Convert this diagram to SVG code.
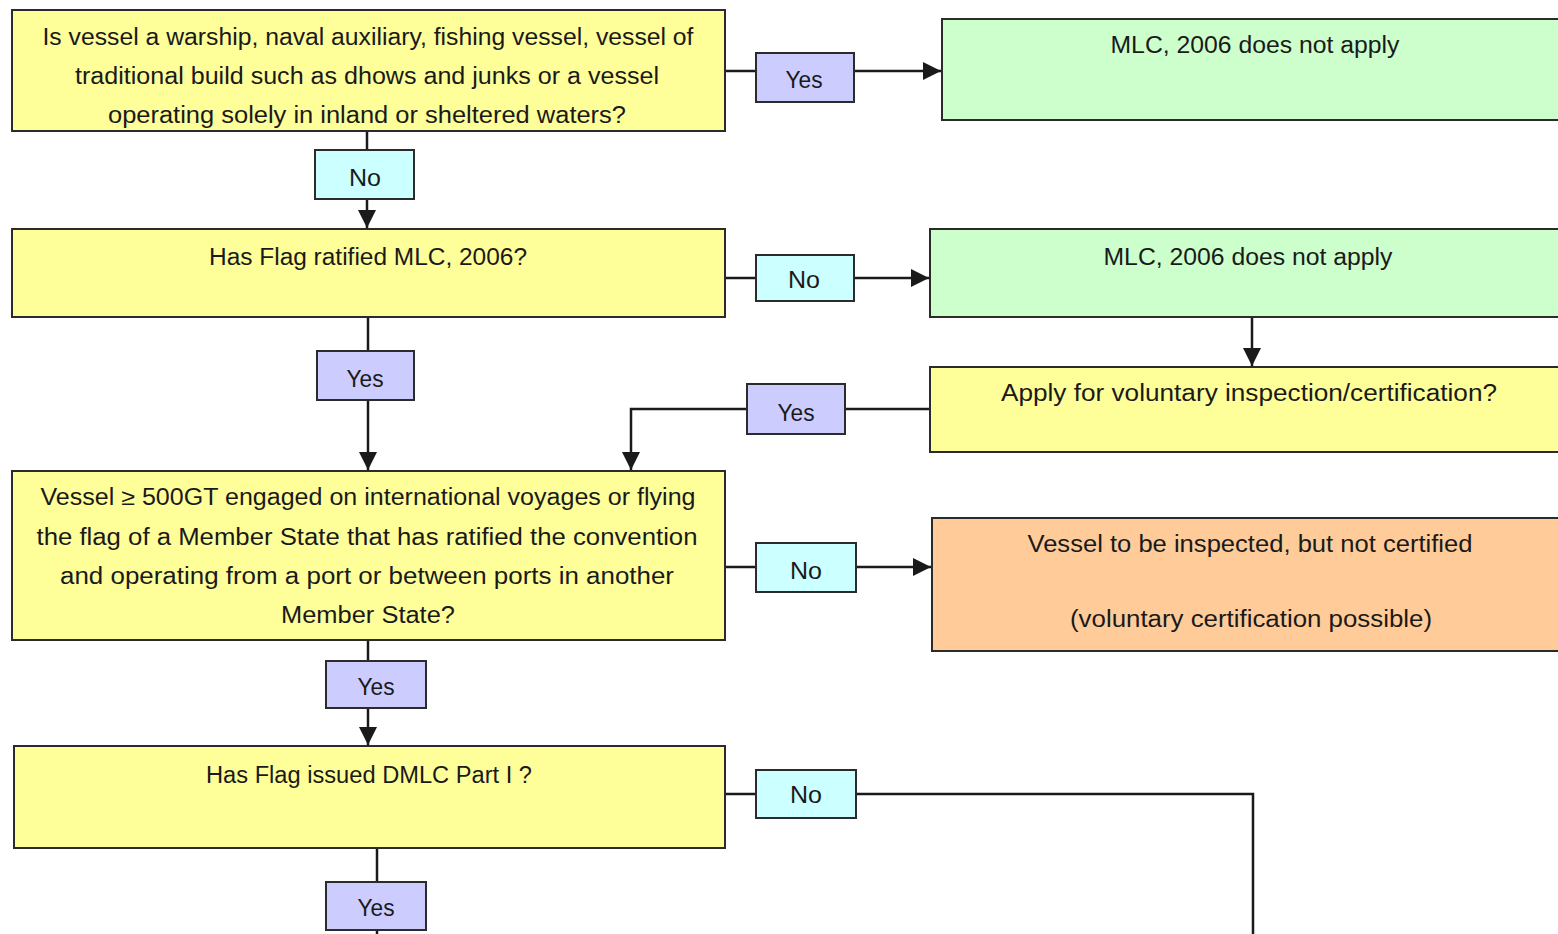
<svg xmlns="http://www.w3.org/2000/svg" width="1558" height="934" viewBox="0 0 1558 934">
<style>
.q{fill:#FFFF99;stroke:#2b2b2b;stroke-width:2}
.g{fill:#CCFFCC;stroke:#2b2b2b;stroke-width:2}
.o{fill:#FFCC99;stroke:#2b2b2b;stroke-width:2}
.y{fill:#CCCCFF;stroke:#2b2b2b;stroke-width:2}
.n{fill:#CCFFFF;stroke:#2b2b2b;stroke-width:2}
text{font-family:"Liberation Sans",Arial,sans-serif;font-size:23px;fill:#1a1a1a;text-anchor:middle}
.c{fill:none;stroke:#1a1a1a;stroke-width:2.5}
</style>
<defs>
<marker id="ah" markerUnits="userSpaceOnUse" markerWidth="20" markerHeight="18" refX="18" refY="9" orient="auto">
<path d="M0,0 L18,9 L0,18 Z" fill="#1a1a1a"/>
</marker>
</defs>
<rect width="1558" height="934" fill="#ffffff"/>
<g id="connectors">
<line class="c" x1="725" y1="71" x2="941" y2="71" marker-end="url(#ah)"/>
<line class="c" x1="367" y1="131" x2="367" y2="228" marker-end="url(#ah)"/>
<line class="c" x1="725" y1="278" x2="929" y2="278" marker-end="url(#ah)"/>
<line class="c" x1="368" y1="317" x2="368" y2="470" marker-end="url(#ah)"/>
<line class="c" x1="1252" y1="317" x2="1252" y2="366" marker-end="url(#ah)"/>
<polyline class="c" points="930,409 631,409 631,470" marker-end="url(#ah)"/>
<line class="c" x1="725" y1="567" x2="931" y2="567" marker-end="url(#ah)"/>
<line class="c" x1="368" y1="640" x2="368" y2="745" marker-end="url(#ah)"/>
<polyline class="c" points="725,794 1253,794 1253,934"/>
<line class="c" x1="377" y1="848" x2="377" y2="934"/>
</g>
<g id="q1">
<rect class="q" x="12" y="10" width="713" height="121"/>
<text x="368" y="45" textLength="651" lengthAdjust="spacingAndGlyphs">Is vessel a warship, naval auxiliary, fishing vessel, vessel of</text>
<text x="367" y="84" textLength="584" lengthAdjust="spacingAndGlyphs">traditional build such as dhows and junks or a vessel</text>
<text x="367" y="123" textLength="518" lengthAdjust="spacingAndGlyphs">operating solely in inland or sheltered waters?</text>
</g>
<g id="l1">
<rect class="y" x="756" y="53" width="98" height="49"/>
<text x="804" y="88" textLength="37" lengthAdjust="spacingAndGlyphs">Yes</text>
</g>
<g id="r1">
<rect class="g" x="942" y="19" width="620" height="101"/>
<text x="1255" y="53" textLength="289" lengthAdjust="spacingAndGlyphs">MLC, 2006 does not apply</text>
</g>
<g id="l2">
<rect class="n" x="315" y="150" width="99" height="49"/>
<text x="365" y="186" textLength="32" lengthAdjust="spacingAndGlyphs">No</text>
</g>
<g id="q2">
<rect class="q" x="12" y="229" width="713" height="88"/>
<text x="368" y="265" textLength="318" lengthAdjust="spacingAndGlyphs">Has Flag ratified MLC, 2006?</text>
</g>
<g id="l3">
<rect class="n" x="756" y="255" width="98" height="46"/>
<text x="804" y="288" textLength="32" lengthAdjust="spacingAndGlyphs">No</text>
</g>
<g id="r2">
<rect class="g" x="930" y="229" width="632" height="88"/>
<text x="1248" y="265" textLength="289" lengthAdjust="spacingAndGlyphs">MLC, 2006 does not apply</text>
</g>
<g id="l4">
<rect class="y" x="317" y="351" width="97" height="49"/>
<text x="365" y="387" textLength="37" lengthAdjust="spacingAndGlyphs">Yes</text>
</g>
<g id="q3">
<rect class="q" x="930" y="367" width="632" height="85"/>
<text x="1249" y="401" textLength="496" lengthAdjust="spacingAndGlyphs">Apply for voluntary inspection/certification?</text>
</g>
<g id="l5">
<rect class="y" x="747" y="384" width="98" height="50"/>
<text x="796" y="421" textLength="37" lengthAdjust="spacingAndGlyphs">Yes</text>
</g>
<g id="q4">
<rect class="q" x="12" y="471" width="713" height="169"/>
<text x="368" y="505" textLength="655" lengthAdjust="spacingAndGlyphs">Vessel ≥ 500GT engaged on international voyages or flying</text>
<text x="367" y="545" textLength="661" lengthAdjust="spacingAndGlyphs">the flag of a Member State that has ratified the convention</text>
<text x="367" y="584" textLength="614" lengthAdjust="spacingAndGlyphs">and operating from a port or between ports in another</text>
<text x="368" y="623" textLength="174" lengthAdjust="spacingAndGlyphs">Member State?</text>
</g>
<g id="l6">
<rect class="n" x="756" y="543" width="100" height="49"/>
<text x="806" y="579" textLength="32" lengthAdjust="spacingAndGlyphs">No</text>
</g>
<g id="r3">
<rect class="o" x="932" y="518" width="630" height="133"/>
<text x="1250" y="552" textLength="445" lengthAdjust="spacingAndGlyphs">Vessel to be inspected, but not certified</text>
<text x="1251" y="627" textLength="362" lengthAdjust="spacingAndGlyphs">(voluntary certification possible)</text>
</g>
<g id="l7">
<rect class="y" x="326" y="661" width="100" height="47"/>
<text x="376" y="695" textLength="37" lengthAdjust="spacingAndGlyphs">Yes</text>
</g>
<g id="q5">
<rect class="q" x="14" y="746" width="711" height="102"/>
<text x="369" y="783" textLength="326" lengthAdjust="spacingAndGlyphs">Has Flag issued DMLC Part I ?</text>
</g>
<g id="l8">
<rect class="n" x="756" y="770" width="100" height="48"/>
<text x="806" y="803" textLength="32" lengthAdjust="spacingAndGlyphs">No</text>
</g>
<g id="l9">
<rect class="y" x="326" y="882" width="100" height="48"/>
<text x="376" y="916" textLength="37" lengthAdjust="spacingAndGlyphs">Yes</text>
</g>
</svg>
